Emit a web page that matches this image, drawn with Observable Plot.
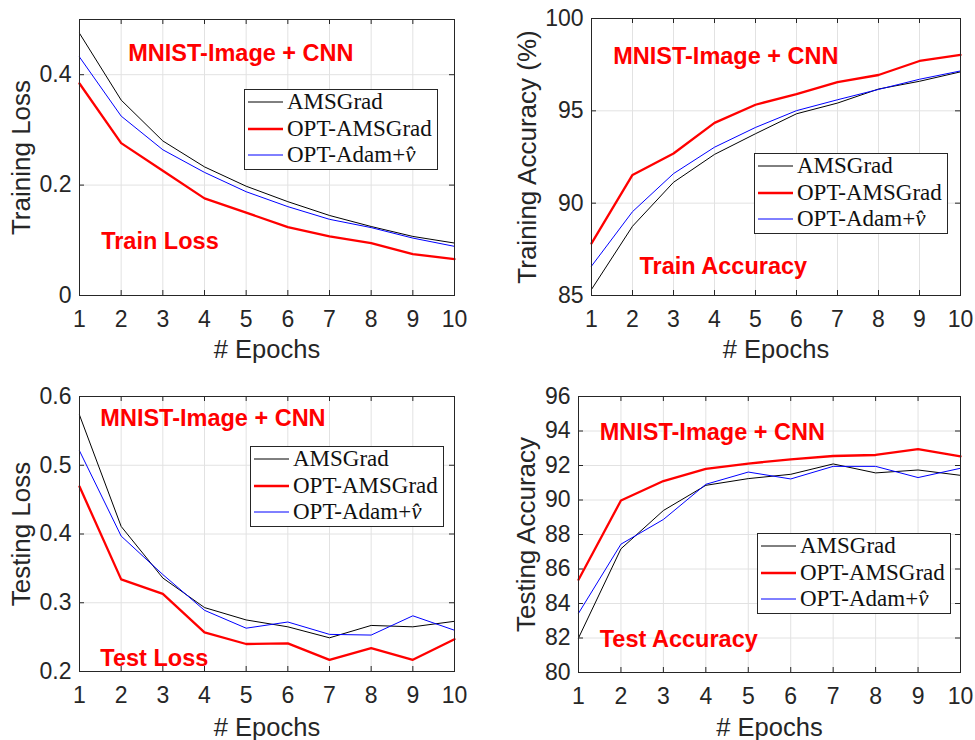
<!DOCTYPE html>
<html>
<head>
<meta charset="utf-8">
<script src="https://cdn.jsdelivr.net/npm/d3@7"></script>
<script src="https://cdn.jsdelivr.net/npm/@observablehq/plot@0.6"></script>
<style>
  html, body { margin: 0; padding: 0; background: #fff; }
  #wrap { position: relative; width: 975px; height: 740px; background: #fff; overflow: hidden; }
  .panel { position: absolute; }
  .legend { position: absolute; width: 192px; height: 79px; border: 1px solid #262626; background: #fff;
            font-family: "Liberation Serif", "Times New Roman", serif; font-size: 23px; color: #111; }
  .legend .row { position: absolute; left: 0; height: 26px; display: flex; align-items: center; white-space: nowrap; }
  .legend svg { margin-left: 3px; margin-right: 4px; }
</style>
</head>
<body>
<div id="wrap"></div>
<script>
// ---- data ----
const epochs = [1, 2, 3, 4, 5, 6, 7, 8, 9, 10];
const seriesNames = ["AMSGrad", "OPT-AMSGrad", "OPT-Adam+v̂"];
const seriesColors = ["#000000", "#ff0000", "#0000ff"];
const seriesWidths = [1, 2.3, 1];

const trainLossAMSGrad    = [0.475, 0.354, 0.280, 0.233, 0.198, 0.170, 0.145, 0.125, 0.107, 0.095];
const trainLossOptAMSGrad = [0.384, 0.276, 0.226, 0.176, 0.150, 0.124, 0.107, 0.095, 0.075, 0.066];
const trainLossOptAdam    = [0.432, 0.325, 0.264, 0.223, 0.188, 0.161, 0.138, 0.123, 0.104, 0.089];

const trainAccAMSGrad    = [85.33, 88.75, 91.13, 92.64, 93.76, 94.84, 95.42, 96.18, 96.60, 97.11];
const trainAccOptAMSGrad = [87.82, 91.53, 92.69, 94.35, 95.33, 95.91, 96.56, 96.94, 97.70, 98.03];
const trainAccOptAdam    = [86.59, 89.54, 91.60, 93.03, 94.10, 95.01, 95.60, 96.16, 96.71, 97.16];

const testLossAMSGrad    = [0.573, 0.411, 0.336, 0.293, 0.275, 0.265, 0.249, 0.267, 0.265, 0.273];
const testLossOptAMSGrad = [0.469, 0.334, 0.313, 0.257, 0.240, 0.241, 0.217, 0.234, 0.217, 0.247];
const testLossOptAdam    = [0.521, 0.397, 0.341, 0.289, 0.263, 0.272, 0.254, 0.253, 0.281, 0.260];

const testAccAMSGrad    = [82.00, 87.17, 89.39, 90.85, 91.24, 91.49, 92.09, 91.57, 91.74, 91.43];
const testAccOptAMSGrad = [85.38, 89.97, 91.10, 91.80, 92.11, 92.36, 92.55, 92.61, 92.95, 92.53];
const testAccOptAdam    = [83.43, 87.44, 88.87, 90.91, 91.62, 91.22, 91.95, 91.95, 91.30, 91.84];

const trainLossTicks = [0, 0.2, 0.4];
const trainAccTicks = [85, 90, 95, 100];
const testLossTicks = [0.2, 0.3, 0.4, 0.5, 0.6];
const testAccTicks = [80, 82, 84, 86, 88, 90, 92, 94, 96];

const xLabel = "# Epochs";
const datasetNote = "MNIST-Image + CNN";

// ---- panel layout ----
const panels = [
  { left: 0, top: 0, width: 487, height: 370, mt: 19, mb: 75, ml: 79, mr: 33,
    domain: [0, 0.5], ticks: trainLossTicks, ylabel: "Training Loss", ydx: -50, xdy: 62,
    series: [trainLossAMSGrad, trainLossOptAMSGrad, trainLossOptAdam],
    notes: [{text: datasetNote, x: 2.17, y: 0.424}, {text: "Train Loss", x: 1.52, y: 0.085}],
    legend: {left: 244, top: 89} },
  { left: 487, top: 0, width: 488, height: 370, mt: 18, mb: 75, ml: 104, mr: 15,
    domain: [85, 100], ticks: trainAccTicks, ylabel: "Training Accuracy (%)", ydx: -56, xdy: 62,
    series: [trainAccAMSGrad, trainAccOptAMSGrad, trainAccOptAdam],
    notes: [{text: datasetNote, x: 1.53, y: 97.52}, {text: "Train Accuracy", x: 2.17, y: 86.19}],
    legend: {left: 754, top: 153} },
  { left: 0, top: 370, width: 487, height: 370, mt: 26, mb: 69, ml: 79, mr: 33,
    domain: [0.2, 0.6], ticks: testLossTicks, ylabel: "Testing Loss", ydx: -50, xdy: 64,
    series: [testLossAMSGrad, testLossOptAMSGrad, testLossOptAdam],
    notes: [{text: datasetNote, x: 1.50, y: 0.557}, {text: "Test Loss", x: 1.50, y: 0.2077}],
    legend: {left: 250, top: 446} },
  { left: 487, top: 370, width: 488, height: 370, mt: 26, mb: 68, ml: 91, mr: 15,
    domain: [80, 96], ticks: testAccTicks, ylabel: "Testing Accuracy", ydx: -44, xdy: 63,
    series: [testAccAMSGrad, testAccOptAMSGrad, testAccOptAdam],
    notes: [{text: datasetNote, x: 1.50, y: 93.5}, {text: "Test Accuracy", x: 1.50, y: 81.46}],
    legend: {left: 757, top: 533} }
];

const wrap = document.getElementById("wrap");
const axisColor = "#262626";
const gridColor = "#e2e2e2";

for (const p of panels) {
  const ph = p.height - p.mt - p.mb;
  const pw = p.width - p.ml - p.mr;
  const rows = [];
  p.series.forEach((vals, si) => {
    vals.forEach((v, i) => rows.push({epoch: epochs[i], value: v, series: si}));
  });
  const lineMarks = [0, 1, 2].map(si =>
    Plot.line(rows.filter(d => d.series === si), {
      x: "epoch", y: "value", stroke: seriesColors[si], strokeWidth: seriesWidths[si]
    })
  );
  const chart = Plot.plot({
    width: p.width, height: p.height,
    marginTop: p.mt, marginBottom: p.mb, marginLeft: p.ml, marginRight: p.mr,
    style: { fontFamily: "'Liberation Sans', Arial, sans-serif", fontSize: "23px", color: axisColor, background: "transparent", overflow: "visible" },
    x: { domain: [1, 10] },
    y: { domain: p.domain },
    marks: [
      Plot.gridX({ ticks: epochs, stroke: gridColor, strokeOpacity: 1 }),
      Plot.gridY({ ticks: p.ticks, stroke: gridColor, strokeOpacity: 1 }),
      Plot.ruleX(epochs, { x: d => d, insetTop: ph - 5, stroke: axisColor }),
      Plot.ruleX(epochs, { x: d => d, insetBottom: ph - 5, stroke: axisColor }),
      Plot.ruleY(p.ticks, { y: d => d, insetRight: pw - 5, stroke: axisColor }),
      Plot.ruleY(p.ticks, { y: d => d, insetLeft: pw - 5, stroke: axisColor }),
      ...lineMarks,
      Plot.frame({ stroke: axisColor }),
      Plot.axisX({ ticks: epochs, tickSize: 0, tickPadding: 15, label: null, tickFormat: d => String(d) }),
      Plot.axisY({ ticks: p.ticks, tickSize: 0, tickPadding: 8, label: null, tickFormat: d => String(d) }),
      Plot.text([xLabel], { text: d => d, frameAnchor: "bottom", textAnchor: "middle", dy: p.xdy, lineAnchor: "bottom", fontSize: 25.5, fill: axisColor }),
      Plot.text([p.ylabel], { text: d => d, frameAnchor: "left", textAnchor: "middle", rotate: -90, dx: p.ydx, lineAnchor: "bottom", fontSize: 26, fill: axisColor }),
      Plot.text(p.notes, { x: "x", y: "y", text: "text", textAnchor: "start", lineAnchor: "bottom", fill: "#ff0000", fontWeight: "bold", fontSize: 23.5 })
    ]
  });
  const holder = document.createElement("div");
  holder.className = "panel";
  holder.style.left = p.left + "px";
  holder.style.top = p.top + "px";
  holder.appendChild(chart);
  wrap.appendChild(holder);

  // legend
  const lg = document.createElement("div");
  lg.className = "legend";
  lg.style.left = p.legend.left + "px";
  lg.style.top = p.legend.top + "px";
  seriesNames.forEach((name, si) => {
    const row = document.createElement("div");
    row.className = "row";
    row.style.top = (12 + 26.5 * si - 13) + "px";
    const label = name.replace("v̂", "<i>v̂</i>");
    row.innerHTML = `<svg width="35" height="6"><line x1="0" x2="35" y1="3" y2="3" stroke="${seriesColors[si]}" stroke-width="${seriesWidths[si] === 1 ? 1 : 2.5}"/></svg><span>${label}</span>`;
    lg.appendChild(row);
  });
  wrap.appendChild(lg);
}
</script>
</body>
</html>
